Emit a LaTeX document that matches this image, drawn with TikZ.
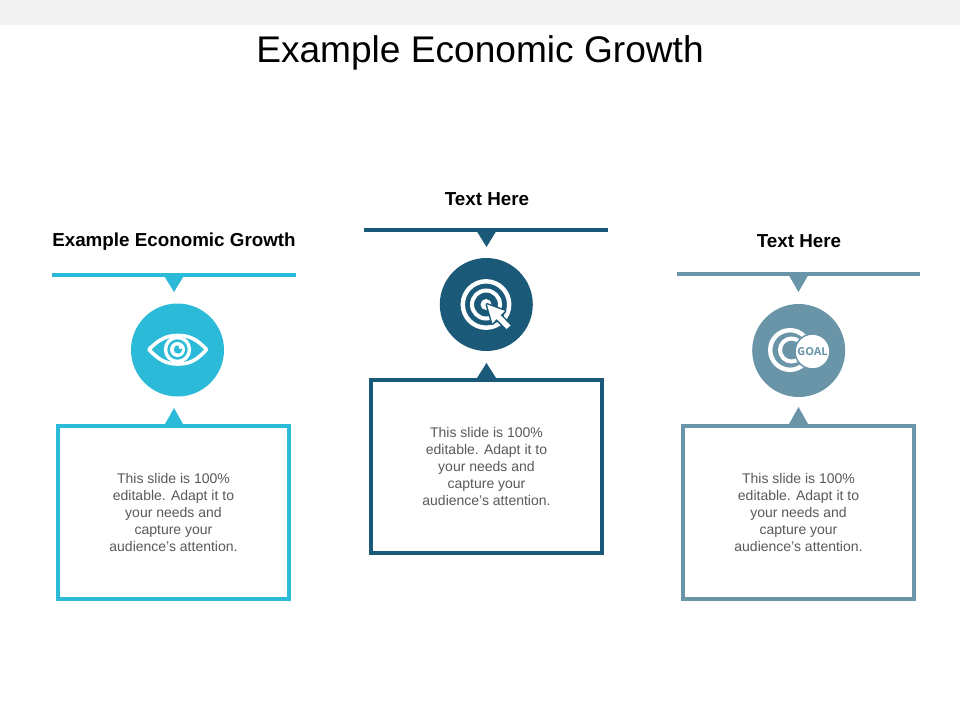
\documentclass[tikz,border=0pt]{standalone}
\usepackage{fontspec}
\setmainfont{Liberation Sans}
\newfontfamily\goalfont{Open Sans}
\definecolor{cyanc}{HTML}{2BBBD8}
\definecolor{navyc}{HTML}{1A5A78}
\definecolor{slatec}{HTML}{6A95A9}
\definecolor{bandc}{HTML}{F2F2F2}
\definecolor{bodyc}{HTML}{595959}
\tikzset{
  px/.style={x=1pt,y=-1pt},
  titletext/.style={font=\fontsize{37.1}{42}\selectfont,text=black,inner sep=0pt},
  headtext/.style={font=\bfseries\fontsize{18.8}{22}\selectfont,text=black,inner sep=0pt},
  bodytext/.style={font=\fontsize{14}{17}\selectfont,text=bodyc,align=center,inner sep=0pt},
  framebox/.style={draw=#1,line width=4pt,fill=white,minimum width=231pt,minimum height=173pt,inner sep=0pt},
  disc/.style={circle,fill=#1,minimum size=93pt,inner sep=0pt},
}
\newcommand{\column}[9]{%
  \fill[#1] (#2,#4) rectangle (#3,#5);
  \fill[#1] (#6-9.5,#5-0.5) -- (#6+9.5,#5-0.5) -- (#6,#7) -- cycle;
  \fill[#1] (#6-9.5,#9) -- (#6+9.5,#9) -- (#6,#8) -- cycle;
}
\begin{document}
\begin{tikzpicture}[px]
\useasboundingbox (0,0) rectangle (960,720);
\fill[bandc] (0,0) rectangle (960,25);
\node[titletext] (title) at (480,53) {Example Economic Growth};

% left column
\node[headtext] (h1) at (174,241.5) {Example Economic Growth};
\column{cyanc}{52}{296}{272.5}{277}{174}{292}{408}{425}
\node[disc=cyanc] (c1) at (177.5,350) {};
\node[framebox=cyanc] (b1) at (173.5,512.3) {};
\node[bodytext] (t1) at (173.5,512.5) {This slide is 100\%\\editable. Adapt it to\\your needs and\\capture your\\audience's attention.};
% eye icon
\draw[white,line width=3.6pt,line join=round] (149,349.5) .. controls (160,338) and (168,335.5) .. (178,335.5) .. controls (188,335.5) and (196,338) .. (206.5,349.5) .. controls (196,361.5) and (188,364) .. (178,364) .. controls (168,364) and (160,361.5) .. (149,349.5) -- cycle;
\draw[white,line width=3.4pt] (177.5,349.5) circle (12);
\fill[white] (177.5,349.5) circle (7.5);
\fill[cyanc] (178,349.5) circle (4.2);
\fill[white] (180.5,347) circle (2);

% middle column
\node[headtext] (h2) at (487,199.5) {Text Here};
\column{navyc}{364}{608}{228}{232}{486.5}{247}{363}{378}
\node[disc=navyc] (c2) at (486.3,304.5) {};
\node[framebox=navyc] (b2) at (486.5,466) {};
\node[bodytext] (t2) at (486.5,466.5) {This slide is 100\%\\editable. Adapt it to\\your needs and\\capture your\\audience's attention.};
% target icon
\draw[white,line width=4.4pt] (486,304.5) circle (23.2);
\draw[white,line width=4pt] (486,304.5) circle (14);
\fill[white] (486,304.5) circle (5.5);
\draw[navyc,line width=3pt,line join=round] (487,304.5) -- (505,311) -- (500.5,315) -- (510.5,325.5) -- (506.5,329) -- (496.5,319) -- (492.5,323.5) -- cycle;
\fill[white] (487,304.5) -- (505,311) -- (500.5,315) -- (510.5,325.5) -- (506.5,329) -- (496.5,319) -- (492.5,323.5) -- cycle;

% right column
\node[headtext] (h3) at (799,241.5) {Text Here};
\column{slatec}{677}{920}{272}{276}{798.5}{292}{407}{424}
\node[disc=slatec] (c3) at (798.7,350.5) {};
\node[framebox=slatec] (b3) at (798.5,512) {};
\node[bodytext] (t3) at (798.5,512.5) {This slide is 100\%\\editable. Adapt it to\\your needs and\\capture your\\audience's attention.};
% goal icon
\draw[white,line width=4.4pt] (790,350) circle (19.8);
\draw[white,line width=4pt] (791.5,350) circle (11.5);
\node[circle,fill=white,draw=slatec,line width=1.5pt,minimum size=35pt,inner sep=0pt,text=slatec,font=\goalfont\bfseries\fontsize{11}{11}\selectfont] (g3) at (812.5,351.5) {GOAL};
\end{tikzpicture}
\end{document}
